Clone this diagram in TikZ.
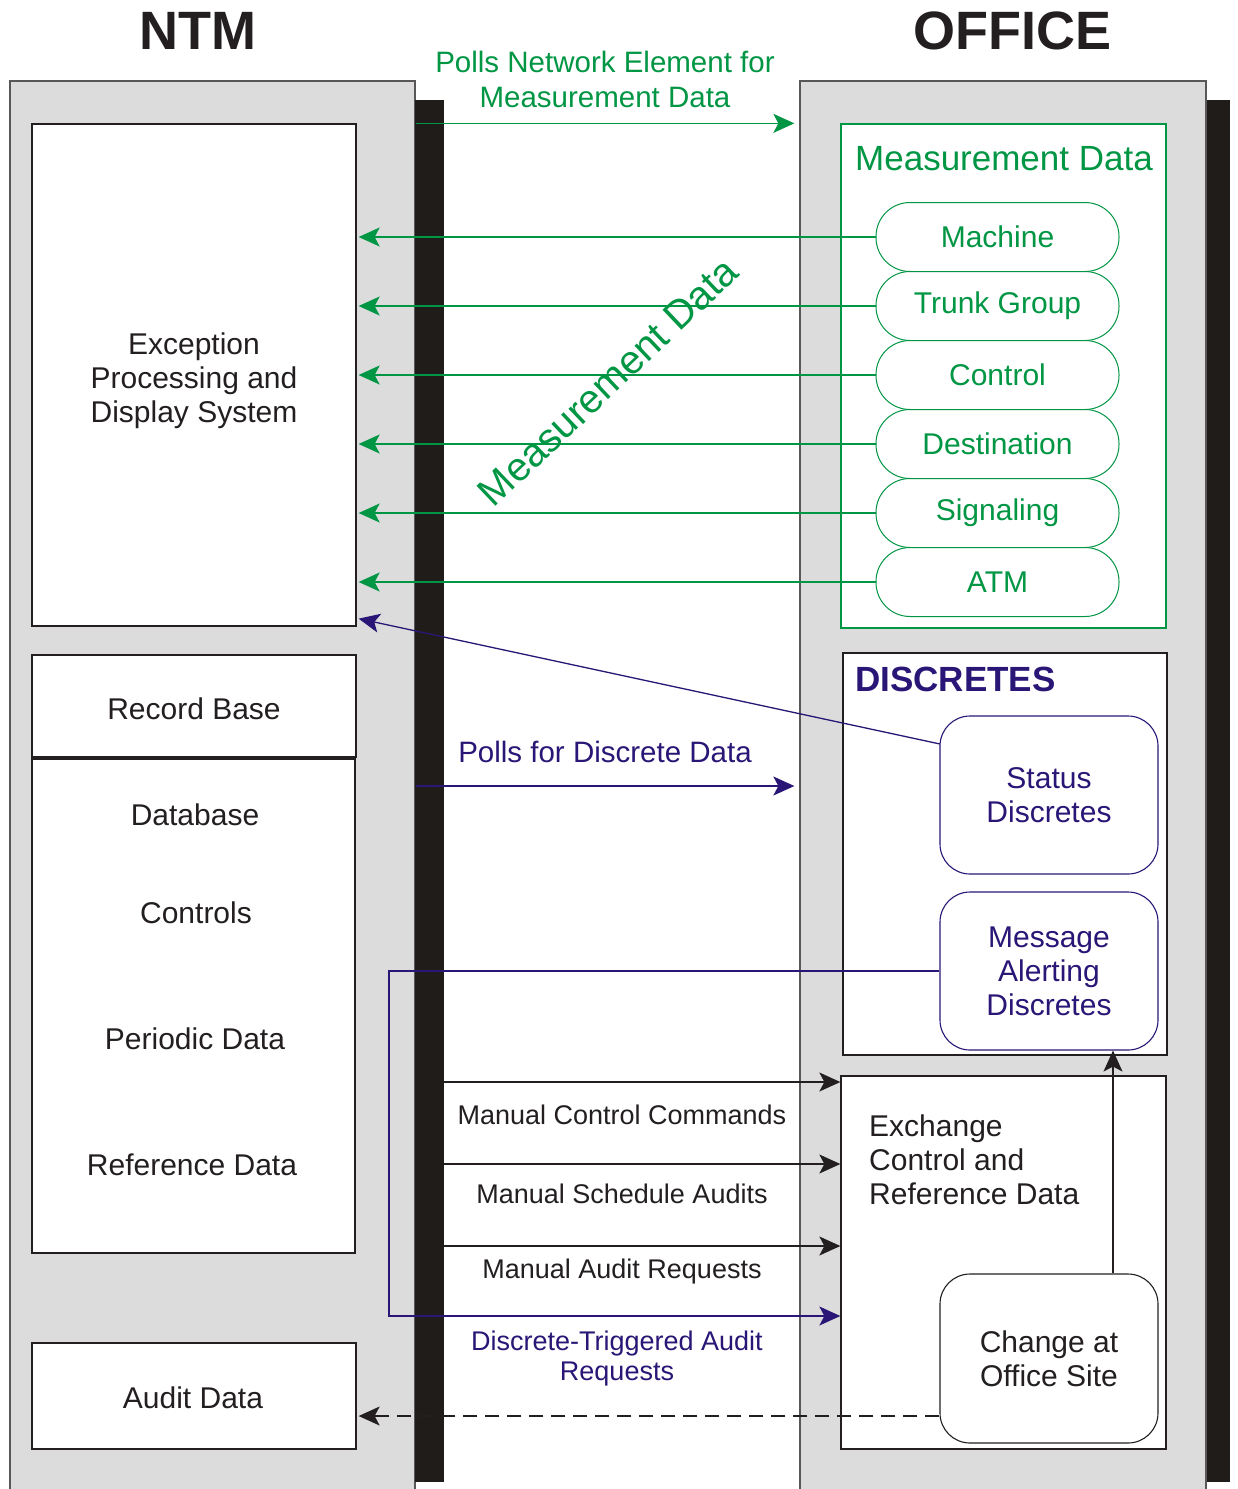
\documentclass[tikz,border=0pt]{standalone}
\usepackage{fontspec}
\setmainfont{Liberation Sans}
\usetikzlibrary{arrows.meta,calc}
\definecolor{mgreen}{RGB}{0,150,68}
\definecolor{mpurple}{RGB}{42,22,118}
\definecolor{panelgray}{RGB}{220,220,220}
\definecolor{shadowblk}{RGB}{32,28,26}
\definecolor{ink}{RGB}{35,31,32}
\begin{document}
\begin{tikzpicture}[x=1pt,y=-1pt,
  panel/.style={draw=ink!75,fill=panelgray,line width=1.3pt,inner sep=0pt},
  wbox/.style={draw=ink,fill=white,line width=1.3pt,inner sep=0pt},
  gbox/.style={draw=mgreen,fill=white,line width=1.3pt,inner sep=0pt},
  stad/.style={draw=mgreen,fill=white,line width=1pt,rounded corners=34pt,
    minimum width=243pt,minimum height=69pt,inner sep=0pt,text=mgreen,
    font=\fontsize{30}{34}\selectfont},
  pround/.style={draw=mpurple,fill=white,line width=1.1pt,rounded corners=30pt,
    minimum width=218pt,minimum height=158pt,inner sep=0pt,text=mpurple,align=center,
    font=\fontsize{30}{34}\selectfont},
  kround/.style={draw=ink,fill=white,line width=1.1pt,rounded corners=30pt,
    minimum width=218pt,minimum height=169pt,inner sep=0pt,text=ink,align=center,
    font=\fontsize{30}{34}\selectfont},
  lbl/.style={text=ink,align=center,inner sep=0pt,font=\fontsize{30}{34}\selectfont},
  slbl/.style={text=ink,align=center,inner sep=0pt,font=\fontsize{27}{30}\selectfont},
  title/.style={text=ink,inner sep=0pt,font=\fontsize{54}{58}\selectfont\bfseries},
  tip/.style={-{Stealth[length=21pt,width=19pt,inset=5pt]}},
  garrow/.style={tip,draw=mgreen,line width=1.5pt},
  parrow/.style={tip,draw=mpurple,line width=1.3pt},
  karrow/.style={tip,draw=ink,line width=1.3pt},
]
\useasboundingbox (0,0) rectangle (1238,1489);
\fill[white] (0,0) rectangle (1238,1489);

% shadows
\fill[shadowblk] (1206,100) rectangle (1230,1482);

% panels
\node[panel,minimum width=405pt,minimum height=1414pt] (ntmp) at (212.5,788) {};
\node[panel,minimum width=406pt,minimum height=1414pt] (offp) at (1003,788) {};
\fill[shadowblk] (415,100) rectangle (444,1482);

% titles
\node[title] (ntm) at (198,31) {NTM};
\node[title] (off) at (1012,31) {OFFICE};

% left boxes
\node[wbox,minimum width=324pt,minimum height=502pt] (exc) at (194,375) {};
\node[lbl] (exct) at (194,381) {Exception\\Processing and\\Display System};
\node[wbox,minimum width=324pt,minimum height=102pt] (rec) at (194,706) {};
\node[lbl] (rect) at (194,709) {Record Base};
\node[wbox,minimum width=323pt,minimum height=494pt] (db) at (193.5,1006) {};
\node[lbl] (dbt1) at (195,815) {Database};
\node[lbl] (dbt2) at (196,913) {Controls};
\node[lbl] (dbt3) at (195,1039) {Periodic Data};
\node[lbl] (dbt4) at (192,1165) {Reference Data};
\node[wbox,minimum width=324pt,minimum height=106pt] (aud) at (194,1396) {};
\node[lbl] (audt) at (193,1398) {Audit Data};

% measurement data box
\node[gbox,minimum width=325pt,minimum height=504pt] (mdbox) at (1003.5,376) {};
\node[text=mgreen,inner sep=0pt,font=\fontsize{35}{40}\selectfont] (mdt) at (1004,159) {Measurement Data};
\node[stad] (mach) at (997.5,237) {Machine};
\node[stad] (trk) at (997.5,306) {Trunk Group};
\node[stad] (ctl) at (997.5,375) {Control};
\node[stad] (dst) at (997.5,444) {Destination};
\node[stad] (sig) at (997.5,513) {Signaling};
\node[stad] (atm) at (997.5,582) {ATM};

% discretes box
\node[wbox,minimum width=324pt,minimum height=402pt] (disc) at (1005,854) {};
\node[text=mpurple,inner sep=0pt,anchor=west,font=\fontsize{35}{40}\selectfont\bfseries] (disct) at (855,679) {DISCRETES};
\node[pround] (stat) at (1049,795) {Status\\Discretes};
\node[pround] (msg) at (1049,971) {Message\\Alerting\\Discretes};

% exchange box
\node[wbox,minimum width=325pt,minimum height=373pt] (exch) at (1003.5,1262.5) {};
\node[lbl,align=left,anchor=west] (excht) at (869,1160) {Exchange\\Control and\\Reference Data};
\node[kround] (chg) at (1049,1358.5) {Change at\\Office Site};

% polls network element
\node[text=mgreen,align=center,inner sep=0pt,font=\fontsize{29.5}{35}\selectfont] (pnet) at (605,79) {Polls Network Element for\\Measurement Data};
\draw[garrow] (ntmp.east |- mdbox.north) -- ([xshift=-5pt]offp.west |- mdbox.north);

% measurement returns
\foreach \n in {mach,trk,ctl,dst,sig,atm}{
  \draw[garrow] (\n.west) -- ([xshift=2pt]\n.west -| exc.east);
}
\node[rotate=43.5,text=mgreen,inner sep=0pt,font=\fontsize{40}{44}\selectfont] (rot) at (608,382) {Measurement Data};

% status discretes to exception
\coordinate (sd) at (940,744);
\draw[parrow] (sd) -- ($(exc.south east)+(2,-8)$);

% polls for discrete data
\node[text=mpurple,inner sep=0pt,font=\fontsize{29.5}{34}\selectfont] (pdd) at (605,752) {Polls for Discrete Data};
\coordinate (pddy) at (0,786);
\draw[parrow] (ntmp.east |- pddy) -- ([xshift=-5pt]offp.west |- pddy);

% message alerting loop
\coordinate (lx) at (389,1316);
\draw[parrow] (msg.west) -- (lx |- msg.west) -- (lx) -- (exch.west |- lx);

% manual arrows
\coordinate (sh) at (444,0);
\coordinate (m1) at (0,1082);
\coordinate (m2) at (0,1164);
\coordinate (m3) at (0,1246);
\draw[karrow] (sh |- m1) -- (exch.west |- m1);
\draw[karrow] (sh |- m2) -- (exch.west |- m2);
\draw[karrow] (sh |- m3) -- (exch.west |- m3);
\node[slbl] (mcc) at (622,1115) {Manual Control Commands};
\node[slbl] (msa) at (622,1194) {Manual Schedule Audits};
\node[slbl] (mar) at (622,1272) {Manual Audit Requests};
\node[text=mpurple,align=center,inner sep=0pt,font=\fontsize{27}{30}\selectfont] (dta) at (617,1359) {Discrete-Triggered Audit\\Requests};

% change to message alerting
\coordinate (vx) at (1113,0);
\draw[karrow] (vx |- chg.north) -- (vx |- msg.south);

% dashed to audit data
\coordinate (dl) at (0,1416);
\draw[karrow,dash pattern=on 14pt off 8pt] (chg.west |- dl) -- ([xshift=2pt]aud.east |- dl);
\end{tikzpicture}
\end{document}
